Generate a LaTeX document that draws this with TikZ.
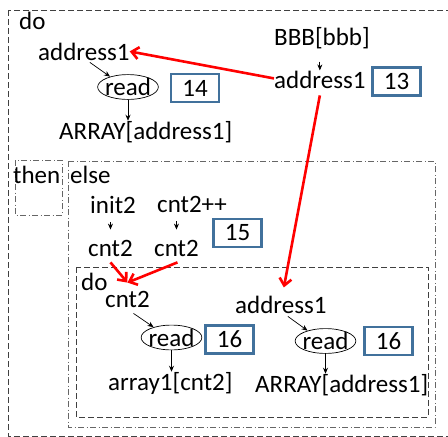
\documentclass[tikz,border=0pt]{standalone}
\usepackage{fontspec}
\setmainfont{Carlito}
\usetikzlibrary{arrows.meta,shapes.geometric,calc}
\definecolor{boxblue}{RGB}{65,113,156}
\begin{document}
\begin{tikzpicture}[x=1pt,y=-1pt,
  bigfont/.style={font=\fontsize{25}{30}\selectfont},
  txt/.style={bigfont, inner sep=0pt, anchor=base west},
  rd/.style={bigfont, ellipse, draw, line width=0.7pt, inner xsep=-1.5pt, inner ysep=0pt},
  numbox/.style={bigfont, draw=boxblue, line width=2.2pt, fill=white, minimum width=48pt, minimum height=28pt, inner sep=0pt},
  arr/.style={-{Stealth[length=6pt,width=5pt]}, line width=0.7pt},
  redarr/.style={red, line width=2.6pt, -{Straight Barb[length=7pt,width=12pt]}},
  dsh/.style={dash pattern=on 6pt off 3pt, line width=0.9pt, draw=black!75},
  dsd/.style={dash pattern=on 6pt off 2.5pt on 1pt off 2.5pt, line width=0.9pt, draw=black!60}]
\clip (0,0) rectangle (448,437);

% frames
\draw[dsh] (8,10) rectangle (470,436);
\draw[dsd] (15,160) rectangle (62,215);
\draw[dsd] (68,161) rectangle (435,427);
\draw[dsh] (76,267) rectangle (428,417);

% top "do" block
\node[txt] (doA) at (19,29) {do};
\node[txt] (addrA) at (38,60) {address1};
\node[rd] (eA) at (128,87) {read};
\node[numbox] (b14) at (195,88) {14};
\node[txt] (arrA) at (59,139) {ARRAY[address1]};
\node[txt] (bbb) at (274,45) {BBB[bbb]};
\node[txt] (addrB) at (274,88) {address1};
\node[numbox] (b13) at (396.5,81.5) {13};

\draw[arr] ([xshift=6pt,yshift=-2pt]addrA.south) -- (eA.150);
\draw[arr] (eA.south) -- (eA.south |- arrA.north);
\draw[arr] ($(bbb.south -| addrB.north)+(0,13)$) -- (addrB.north);
\draw[redarr] ([yshift=1pt]addrB.west) -- (addrA.east);

% then / else
\node[txt] (thenL) at (13,183) {then};
\node[txt] (elseL) at (70,183) {else};
\node[txt] (init2) at (90,213) {init2};
\node[txt] (cntpp) at (157,212) {cnt2++};
\node[txt] (cntL) at (88,256) {cnt2};
\node[txt] (cntR) at (154,256) {cnt2};
\node[numbox] (b15) at (237.5,233) {15};

\draw[arr] ($(init2.south -| cntL.north)+(0,9)$) -- ($(cntL.north)+(0,-10)$);
\draw[arr] ($(cntpp.south -| cntR.north)+(0,9)$) -- ($(cntR.north)+(0,-10)$);

% inner do
\node[txt] (doB) at (81,290) {do};
\node[txt] (cntC) at (105,307) {cnt2};
\node[txt] (addrC) at (235,313) {address1};
\node[rd] (eB) at (171.5,337.5) {read};
\node[numbox] (b16a) at (229.5,339.5) {16};
\node[rd] (eC) at (325.5,341) {read};
\node[numbox] (b16b) at (388.5,341) {16};
\node[txt] (arr1) at (108,390) {array1[cnt2]};
\node[txt] (arrC) at (255,392) {ARRAY[address1]};

\draw[arr] ([xshift=6pt,yshift=-6pt]cntC.south) -- (eB.150);
\draw[arr] (eB.south) -- (eB.south |- arr1.north);
\draw[arr] ([xshift=7pt,yshift=-3pt]addrC.south) -- (eC.150);
\draw[arr] (eC.south) -- (eC.south |- arrC.north);

% red data-flow arrows
\draw[redarr] ([yshift=-6pt]cntL.south) -- ([yshift=8pt]cntC.north);
\draw[redarr] ([xshift=1pt,yshift=-6pt]cntR.south) -- ([yshift=8pt]cntC.north);
\draw[redarr] ([yshift=-7pt]addrB.south) -- ([xshift=3pt,yshift=8pt]addrC.north);
\end{tikzpicture}
\end{document}
